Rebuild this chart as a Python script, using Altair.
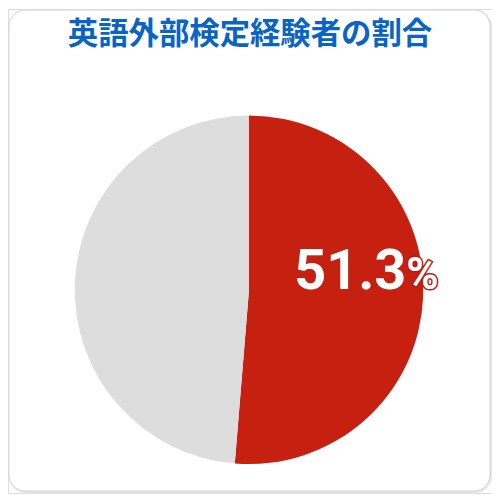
import altair as alt
import pandas as pd

title_text = "英語外部検定経験者の割合"
categories = ["経験あり", "経験なし"]
values = [51.3, 48.7]
colors = ["#C52010", "#DDDDDD"]

df = pd.DataFrame({"category": categories, "value": values, "order": [0, 1]})
lab = pd.DataFrame({"num": [f"{values[0]}"], "pct": ["%"]})

W, H = 486, 486
CX, CY = 242, 282

shadow = alt.Chart(lab).mark_rect(
    cornerRadius=17, fill="white", stroke="#E6E6E6", strokeWidth=3
).encode(x=alt.value(2), x2=alt.value(W - 1), y=alt.value(2), y2=alt.value(H - 1))

card = alt.Chart(lab).mark_rect(
    cornerRadius=16, fill="white", stroke="#D4D4D4", strokeWidth=1
).encode(x=alt.value(1), x2=alt.value(W - 2), y=alt.value(1), y2=alt.value(H - 2))

pie = alt.Chart(df).mark_arc(radius=175, stroke=None).encode(
    theta=alt.Theta("value:Q", stack=True),
    color=alt.Color("category:N", scale=alt.Scale(domain=categories, range=colors), legend=None),
    order=alt.Order("order:Q"),
    x=alt.value(CX),
    y=alt.value(CY),
)

num = alt.Chart(lab).mark_text(
    font="Roboto", fontWeight="bold", fontSize=56, color="white",
    align="right", baseline="alphabetic"
).encode(text="num:N", x=alt.value(400), y=alt.value(281))

pct_outline = alt.Chart(lab).mark_text(
    font="Roboto", fontWeight="bold", fontSize=44, color="#C52010",
    stroke="#B51A0C", strokeWidth=3,
    align="left", baseline="alphabetic"
).encode(text="pct:N", x=alt.value(400), y=alt.value(281))

pct = alt.Chart(lab).mark_text(
    font="Roboto", fontWeight="bold", fontSize=44, color="white",
    align="left", baseline="alphabetic"
).encode(text="pct:N", x=alt.value(400), y=alt.value(281))

title = alt.Chart(lab).mark_text(
    font="Noto Sans CJK JP", fontWeight="bold", fontSize=30.5, color="#0A64C4",
    align="center", baseline="middle"
).encode(text=alt.value(title_text), x=alt.value(W / 2), y=alt.value(26))

chart = alt.layer(shadow, card, pie, num, pct_outline, pct, title).properties(
    width=W, height=H, padding=0, autosize="none"
).configure_view(
    stroke=None
).configure(background="white")

chart.save("out.html", embed_options={"renderer": "svg", "actions": False})
